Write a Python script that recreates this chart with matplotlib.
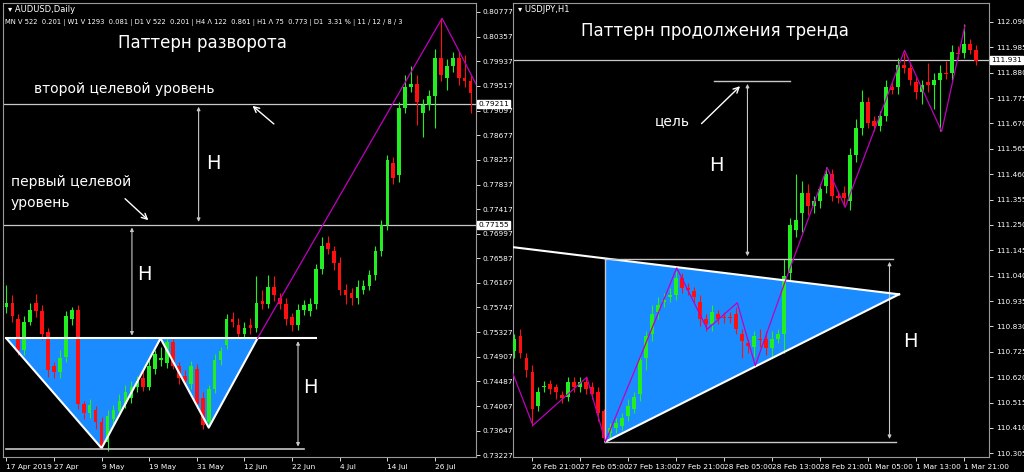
import matplotlib.pyplot as plt
from matplotlib.transforms import blended_transform_factory

# ---- AUDUSD daily (left) ----
l_open = [.7575, .7583, .7555, .7502, .7550, .7582, .7568, .7532, .7475, .7465,
          .7490, .7555, .7570, .7410, .7395, .7400, .7380, .7345, .7385, .7398,
          .7410, .7420, .7440, .7455, .7440, .7470, .7485, .7480, .7515, .7475,
          .7458, .7445, .7470, .7420, .7380, .7435, .7485, .7510, .7555, .7545,
          .7530, .7545, .7540, .7585, .7580, .7610, .7590, .7580, .7558, .7545,
          .7570, .7568, .7580, .7640, .7685, .7670, .7650, .7605, .7600, .7590,
          .7605, .7612, .7630, .7670, .7715, .7820, .7800, .7915, .7950, .7955,
          .7905, .7920, .7935, .8000, .7965, .7985, .8000, .7965, .7960]
l_close = [.7583, .7560, .7502, .7550, .7570, .7568, .7530, .7468, .7465, .7488,
           .7560, .7570, .7410, .7395, .7408, .7380, .7338, .7390, .7400, .7415,
           .7430, .7440, .7450, .7440, .7475, .7495, .7488, .7515, .7475, .7455,
           .7450, .7475, .7410, .7375, .7435, .7485, .7500, .7555, .7550, .7530,
           .7540, .7540, .7582, .7580, .7610, .7595, .7580, .7555, .7545, .7570,
           .7578, .7580, .7640, .7680, .7675, .7650, .7605, .7595, .7590, .7610,
           .7612, .7630, .7670, .7715, .7825, .7795, .7915, .7950, .7955, .7925,
           .7920, .7935, .8000, .7970, .7985, .8000, .7965, .7960, .7940]
# wicks in units of 0.0001
l_up = [30, 12, 8, 10, 12, 16, 10, 8, 6, 14, 8, 6, 8, 6, 10, 6, 8, 10, 8, 12,
        12, 10, 8, 12, 10, 8, 20, 8, 8, 6, 10, 8, 8, 10, 8, 10, 8, 8, 12, 12,
        10, 12, 46, 20, 20, 18, 10, 10, 8, 10, 10, 10, 8, 15, 12, 10, 10, 10, 8, 12,
        10, 8, 10, 8, 10, 10, 10, 20, 30, 15, 10, 10, 15, 67, 12, 10, 10, 40, 10]
l_dn = [10, 10, 8, 8, 6, 10, 10, 12, 10, 10, 8, 10, 8, 10, 8, 12, 5, 15, 10, 8,
        6, 8, 10, 8, 6, 8, 10, 8, 6, 10, 8, 10, 6, 8, 8, 6, 8, 6, 8, 8,
        8, 10, 8, 8, 6, 10, 8, 10, 10, 8, 8, 8, 8, 8, 10, 12, 10, 15, 12, 10,
        8, 8, 8, 8, 8, 10, 12, 10, 8, 40, 40, 10, 55, 10, 20, 10, 12, 10, 35]
l_ticks = [0, 8, 16, 24, 32, 40, 48, 56, 64, 72]
l_tick_labels = ['17 Apr 2019', '27 Apr', '9 May', '19 May', '31 May', '12 Jun',
                 '22 Jun', '4 Jul', '14 Jul', '26 Jul']
l_prices = [0.80777, 0.80357, 0.79937, 0.79517, 0.79097, 0.78677, 0.78257, 0.77837,
            0.77417, 0.76997, 0.76587, 0.76167, 0.75747, 0.75327, 0.74907, 0.74487,
            0.74067, 0.73647, 0.73227]

# ---- USDJPY H1 (right) ----
r_open = [110.73, 110.79, 110.70, 110.64, 110.50, 110.58, 110.59, 110.58, 110.545, 110.54,
          110.60, 110.58, 110.60, 110.58, 110.56, 110.48, 110.39, 110.41, 110.42, 110.46,
          110.49, 110.55, 110.70, 110.80, 110.89, 110.93, 110.95, 110.96, 111.03, 110.99,
          110.975, 110.93, 110.86, 110.84, 110.88, 110.87, 110.87, 110.88, 110.80, 110.76,
          110.745, 110.78, 110.78, 110.74, 110.78, 110.80, 111.05, 111.23, 111.30, 111.38,
          111.33, 111.35, 111.41, 111.46, 111.37, 111.38, 111.35, 111.54, 111.65, 111.76,
          111.68, 111.66, 111.70, 111.82, 111.82, 111.91, 111.90, 111.84, 111.80, 111.84,
          111.83, 111.85, 111.88, 111.88, 111.96, 111.96, 112.00, 111.975]
r_close = [110.78, 110.72, 110.65, 110.49, 110.56, 110.585, 110.57, 110.56, 110.535, 110.60,
           110.58, 110.60, 110.57, 110.55, 110.47, 110.37, 110.41, 110.43, 110.45, 110.50,
           110.54, 110.69, 110.79, 110.88, 110.92, 110.94, 110.96, 111.03, 110.99, 110.98,
           110.95, 110.86, 110.84, 110.89, 110.86, 110.865, 110.865, 110.82, 110.77, 110.75,
           110.79, 110.775, 110.74, 110.78, 110.80, 111.04, 111.25, 111.27, 111.38, 111.33,
           111.35, 111.40, 111.46, 111.37, 111.36, 111.36, 111.54, 111.65, 111.76, 111.67,
           111.66, 111.70, 111.82, 111.81, 111.91, 111.90, 111.85, 111.80, 111.83, 111.83,
           111.85, 111.88, 111.875, 111.965, 111.955, 112.00, 111.975, 111.93]
# wicks in units of 0.01
r_up = [2, 3, 2, 3, 2, 2, 2, 1, 2, 2, 2, 2, 2, 2, 2, 1, 2, 2, 2, 3,
        2, 2, 2, 4, 3, 3, 3, 3, 2, 2, 2, 3, 2, 3, 2, 2, 2, 3, 2, 2,
        2, 4, 3, 3, 2, 7, 3, 19, 5, 4, 2, 2, 3, 2, 2, 3, 3, 4, 5, 2,
        2, 2, 3, 2, 3, 5, 2, 2, 2, 8, 3, 3, 5, 3, 3, 8, 2, 2]
r_dn = [3, 2, 3, 7, 2, 2, 2, 3, 2, 2, 2, 2, 2, 2, 3, 1, 2, 2, 2, 2,
        2, 3, 5, 3, 3, 2, 2, 2, 2, 2, 2, 3, 3, 3, 2, 2, 2, 2, 7, 3,
        4, 3, 3, 4, 2, 8, 3, 3, 8, 4, 3, 3, 3, 2, 2, 3, 4, 3, 3, 2,
        2, 2, 2, 2, 3, 2, 2, 3, 5, 3, 10, 21, 2, 3, 2, 2, 2, 2]
r_ticks = [3, 11, 19, 27, 35, 43, 51, 59, 67, 75]
r_tick_labels = ['26 Feb 21:00', '27 Feb 05:00', '27 Feb 13:00', '27 Feb 21:00', '28 Feb 05:00',
                 '28 Feb 13:00', '28 Feb 21:00', '1 Mar 05:00', '1 Mar 13:00', '1 Mar 21:00']
r_prices = [112.090, 111.985, 111.880, 111.775, 111.670, 111.565, 111.460, 111.355, 111.250,
            111.145, 111.040, 110.935, 110.830, 110.725, 110.620, 110.515, 110.410, 110.305]

GREEN = '#22ee22'
RED = '#ff1010'
BLUE = '#1a8cff'
GRID = '#c8c8c8'

fig = plt.figure(figsize=(10.24, 4.72), dpi=100, facecolor='black')
axL = fig.add_axes([3 / 1024, 15 / 472, 473 / 1024, 454 / 472])
axR = fig.add_axes([513 / 1024, 15 / 472, 476 / 1024, 454 / 472])


def candles(ax, o, c, up, dn, unit):
    for i in range(len(o)):
        col = GREEN if c[i] >= o[i] else RED
        hi = max(o[i], c[i]) + up[i] * unit
        lo = min(o[i], c[i]) - dn[i] * unit
        ax.vlines(i, lo, hi, color=col, lw=0.8, zorder=3)
        h = abs(c[i] - o[i])
        ax.bar(i, max(h, unit * 0.5), bottom=min(o[i], c[i]), width=0.6, color=col, zorder=3)


def style(ax, ticks, labels, prices, fmt, xlim, ylim):
    ax.set_facecolor('black')
    ax.set_xlim(*xlim)
    ax.set_ylim(*ylim)
    ax.set_xticks(ticks)
    ax.set_xticklabels(labels, ha='left')
    ax.set_yticks(prices)
    ax.set_yticklabels([fmt % p for p in prices])
    ax.yaxis.tick_right()
    ax.tick_params(colors='white', labelsize=5.3, length=3, width=0.6, pad=2)
    for s in ax.spines.values():
        s.set_color('#9a9a9a')
        s.set_linewidth(0.8)


def price_box(ax, y, text):
    tr = blended_transform_factory(ax.transAxes, ax.transData)
    ax.axhline(y, color=GRID, lw=0.9, zorder=2)
    ax.text(1.005, y, text, transform=tr, fontsize=5.3, color='black', va='center',
            ha='left', clip_on=False, zorder=10,
            bbox=dict(boxstyle='square,pad=0.15', fc='white', ec='white'))


def varrow(ax, x, y0, y1):
    ax.annotate('', xy=(x, y0), xytext=(x, y1),
                arrowprops=dict(arrowstyle='<|-|>', color=GRID, lw=0.8, mutation_scale=5))


# ---- left panel ----
candles(axL, l_open, l_close, l_up, l_dn, 1e-4)
style(axL, l_ticks, l_tick_labels, l_prices, '%.5f', (-0.56, 78.9), (0.7320, 0.8093))
price_box(axL, 0.79211, '0.79211')
price_box(axL, 0.77155, '0.77155')
axL.fill([0, 16, 25.9, 34, 42.2], [.7522, .7335, .7522, .7370, .7522],
         fc=BLUE, ec='none', zorder=1)
axL.plot([0, 16, 25.9, 34, 42.2], [.7522, .7335, .7522, .7370, .7522],
         color='white', lw=1.5, zorder=5)
axL.plot([0, 52], [.7522, .7522], color='white', lw=1.5, zorder=5)
axL.plot([0, 50], [.7333, .7333], color=GRID, lw=1.2, zorder=5)
axL.plot([42.2, 73.2, 78.9], [.7522, .8067, .7955], color='#c000c0', lw=0.9, zorder=5)
varrow(axL, 32.3, 0.79211, 0.77155)
varrow(axL, 21.1, 0.77155, 0.7522)
varrow(axL, 49, 0.7522, 0.7333)
for x, y in [(34.8, .7819), (23.2, .7630), (51, .7438)]:
    axL.text(x, y, 'H', color='white', fontsize=14, ha='center', va='center')
axL.text(33, .8025, 'Паттерн разворота', color='white', fontsize=12, ha='center', va='center')
axL.text(4.7, .7946, 'второй целевой уровень', color='white', fontsize=10, va='center')
axL.text(0.7, .7770, 'первый целевой\nуровень', color='white', fontsize=10, va='center',
         linespacing=1.6)
axL.annotate('', xy=(41, .7921), xytext=(45.3, .7884),
             arrowprops=dict(arrowstyle='->', color='white', lw=1))
axL.annotate('', xy=(24.2, .7720), xytext=(19.6, .7763),
             arrowprops=dict(arrowstyle='->', color='white', lw=1))
axL.text(0.01, 0.995, '▾ AUDUSD,Daily', transform=axL.transAxes, color='white',
         fontsize=6, va='top')
axL.text(0.005, 0.965, 'MN V 522  0.201 | W1 V 1293  0.081 | D1 V 522  0.201 | '
         'H4 Λ 122  0.861 | H1 Λ 75  0.773 | D1  3.31 % | 11 / 12 / 8 / 3',
         transform=axL.transAxes, color='white', fontsize=4.9, va='top')

# ---- right panel ----
candles(axR, r_open, r_close, r_up, r_dn, 0.01)
style(axR, r_ticks, r_tick_labels, r_prices, '%.3f', (-0.22, 79.2), (110.290, 112.168))
price_box(axR, 111.931, '111.931')
axR.fill([15.2, 64.2, 15.2], [111.109, 110.963, 110.353], fc=BLUE, ec='none', zorder=1)
axR.plot([-0.22, 64.2], [111.158, 110.963], color='white', lw=1.5, zorder=5)
axR.plot([15.2, 64.2], [110.353, 110.963], color='white', lw=1.5, zorder=5)
axR.plot([15.2, 15.2], [110.353, 111.109], color=GRID, lw=1, zorder=5)
axR.plot([15.2, 63.1], [111.109, 111.109], color=GRID, lw=1, zorder=5)
axR.plot([15.2, 63.6], [110.353, 110.353], color=GRID, lw=1, zorder=5)
axR.plot([33.4, 46], [111.845, 111.845], color=GRID, lw=1, zorder=5)
varrow(axR, 62.6, 111.109, 110.353)
varrow(axR, 38.9, 111.109, 111.845)
zx = [-0.22, 3.1, 12.1, 15.2, 27.1, 32.2, 37.2, 40.2, 45.2, 52.2, 55.2, 65.1, 71.3, 75.2]
zy = [110.634, 110.421, 110.620, 110.353, 111.072, 110.819, 110.928, 110.668, 111.017,
      111.487, 111.323, 111.972, 111.637, 112.075]
axR.plot(zx, zy, color='#c000c0', lw=0.9, zorder=5)
axR.text(66.1, 110.768, 'H', color='white', fontsize=14, ha='center', va='center')
axR.text(33.7, 111.494, 'H', color='white', fontsize=14, ha='center', va='center')
axR.text(26.3, 111.679, 'цель', color='white', fontsize=10, ha='center', va='center')
axR.annotate('', xy=(38, 111.832), xytext=(30.9, 111.661),
             arrowprops=dict(arrowstyle='->', color='white', lw=1))
axR.text(33.4, 112.052, 'Паттерн продолжения тренда', color='white', fontsize=12,
         ha='center', va='center')
axR.text(0.01, 0.995, '▾ USDJPY,H1', transform=axR.transAxes, color='white',
         fontsize=6, va='top')

fig.savefig('out.png', dpi=100, facecolor='black')
